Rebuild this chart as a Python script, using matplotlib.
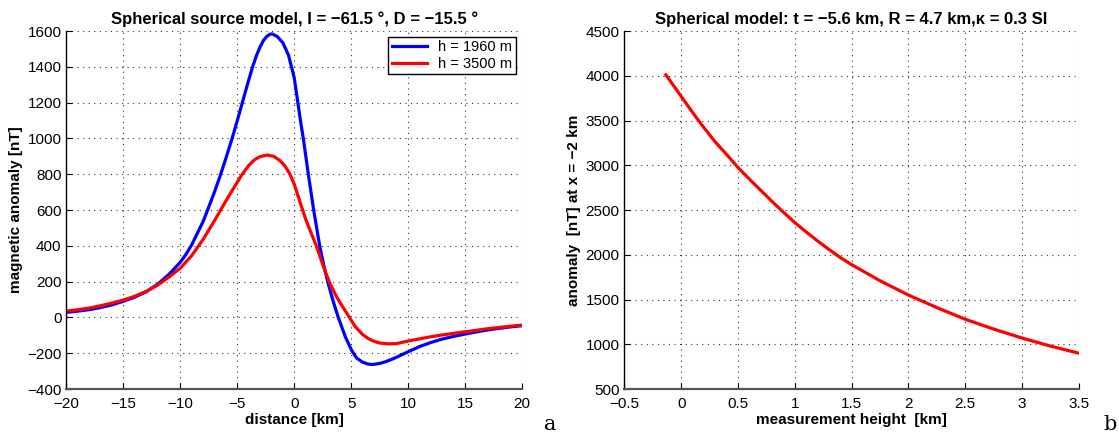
import matplotlib
matplotlib.use("Agg")
import matplotlib.pyplot as plt
import numpy as np

plt.rcParams['font.family'] = ['Liberation Sans', 'DejaVu Sans']

# ---- panel a: anomaly profiles ----
blue_x = [-20, -19, -18, -17, -16, -15, -14, -13, -12, -11, -10, -9.5, -9, -8.5,
          -8, -7.6, -7.0, -6.45, -6.0, -5.45, -5.0, -4.55, -4.1, -3.65, -3.3, -3.0,
          -2.7, -2.4, -2.15, -1.95, -1.5, -1.0, -0.5, 0.0, 0.3, 0.55, 0.8, 1.0,
          1.24, 1.5, 1.71, 2.0, 2.24, 2.6, 2.94, 3.4, 3.87, 4.5, 5.05, 5.5, 6.0,
          6.5, 6.9, 7.5, 8.0, 8.5, 9.0, 10, 11, 12, 13, 14, 15, 16, 17, 18, 19, 20]
blue_v = [28, 35, 43, 55, 70, 90, 113, 143, 185, 240, 308, 352, 405, 470,
          535, 600, 700, 800, 888, 1000, 1098, 1200, 1302, 1400, 1465, 1510,
          1547, 1570, 1581, 1584, 1570, 1535, 1465, 1340, 1210, 1100, 1000, 910,
          800, 690, 600, 490, 400, 290, 200, 95, 0, -110, -185, -228, -250,
          -261, -263, -257, -248, -236, -222, -192, -163, -140, -121, -106, -93,
          -81, -70, -61, -53, -46]

red_x = [-20, -19, -18, -17, -16, -15, -14, -13, -12, -11, -10, -9, -8, -7, -6,
         -5, -4.61, -4.0, -3.5, -3.0, -2.36, -1.8, -1.25, -0.8, -0.37, 0.0, 0.51,
         1.0, 1.5, 1.97, 2.4, 2.76, 3.14, 3.6, 4.0, 4.5, 5.0, 5.34, 6.0, 6.5, 7.0,
         7.5, 8.3, 9.0, 10, 11, 12, 13, 14, 15, 16, 17, 18, 19, 20]
red_v = [35, 43, 52, 65, 80, 97, 118, 145, 180, 225, 275, 345, 435, 540, 650,
         755, 795, 848, 880, 898, 907, 900, 876, 845, 800, 745, 645,
         550, 470, 395, 315, 250, 190, 130, 85, 35, -15, -50, -95, -118, -133,
         -143, -148, -146, -132, -120, -108, -98, -89, -80, -72, -63, -56, -49, -43]

# ---- panel b: anomaly vs measurement height ----
hgt = [-0.135, 0.0, 0.1, 0.2, 0.3, 0.4, 0.5, 0.6, 0.7, 0.8, 0.9, 1.0, 1.1, 1.2,
       1.3, 1.4, 1.5, 1.75, 2.0, 2.25, 2.5, 2.75, 3.0, 3.25, 3.5]
anom = [4010, 3770, 3590, 3420, 3260, 3120, 2975, 2845, 2720, 2595, 2475, 2360,
        2255, 2155, 2060, 1970, 1890, 1710, 1550, 1410, 1280, 1170, 1070, 980, 900]

fig = plt.figure(figsize=(11.19, 4.33), dpi=100)
ax1 = fig.add_axes([0.0593, 0.1016, 0.4072, 0.8268])
ax2 = fig.add_axes([0.558, 0.1016, 0.406, 0.8268])

for ax in (ax1, ax2):
    ax.grid(True, linestyle=(0, (1, 4)), color='black', linewidth=0.8, alpha=0.8)
    ax.spines['top'].set_visible(False)
    ax.spines['right'].set_visible(False)
    ax.spines['left'].set_linewidth(1.0)
    ax.spines['bottom'].set_linewidth(1.6)
    ax.spines['bottom'].set_color('#555555')
    ax.tick_params(direction='in', labelsize=11, length=4, width=0.8)
    ax.tick_params(axis='x', pad=6)

ax1.plot(blue_x, blue_v, color='#0000ff', lw=2.3, label='h = 1960 m')
ax1.plot(red_x, red_v, color='#ff0000', lw=2.3, label='h = 3500 m')
ax1.set_xlim(-20, 20)
ax1.set_ylim(-400, 1600)
ax1.set_xticks(np.arange(-20, 21, 5))
ax1.set_yticks(np.arange(-400, 1601, 200))
ax1.set_title('Spherical source model, I = \u221261.5 \u00b0, D = \u221215.5 \u00b0',
              fontsize=12, fontweight='bold', pad=5)
ax1.set_xlabel('distance [km]', fontsize=11, fontweight='bold', labelpad=1)
ax1.set_ylabel('magnetic anomaly [nT]', fontsize=11, fontweight='bold', labelpad=3)
leg = ax1.legend(loc='upper right', fontsize=10.5, fancybox=False, framealpha=1,
                 edgecolor='black', borderaxespad=0.4, handlelength=2.4,
                 borderpad=0.25, labelspacing=0.15)
leg.get_frame().set_linewidth(1.0)

ax2.plot(hgt, anom, color='#ff0000', lw=2.3)
ax2.set_xlim(-0.5, 3.5)
ax2.set_ylim(500, 4500)
ax2.set_xticks(np.arange(-0.5, 3.51, 0.5))
ax2.set_yticks(np.arange(500, 4501, 500))
ax2.set_xticklabels(['\u22120.5', '0', '0.5', '1', '1.5', '2', '2.5', '3', '3.5'])
ax2.set_title('Spherical model: t = \u22125.6 km, R = 4.7 km,\u03ba = 0.3 SI',
              fontsize=12, fontweight='bold', pad=5)
ax2.set_xlabel('measurement height  [km]', fontsize=11, fontweight='bold', labelpad=1)
ax2.set_ylabel('anomaly  [nT] at x = \u22122 km', fontsize=11, fontweight='bold', labelpad=3)

fig.text(550 / 1119, 1 - 424 / 433, 'a', family='DejaVu Serif', fontsize=15,
         ha='center', va='center')
fig.text(1110 / 1119, 1 - 424 / 433, 'b', family='DejaVu Serif', fontsize=15,
         ha='center', va='center')

fig.savefig('out.png', dpi=100)
